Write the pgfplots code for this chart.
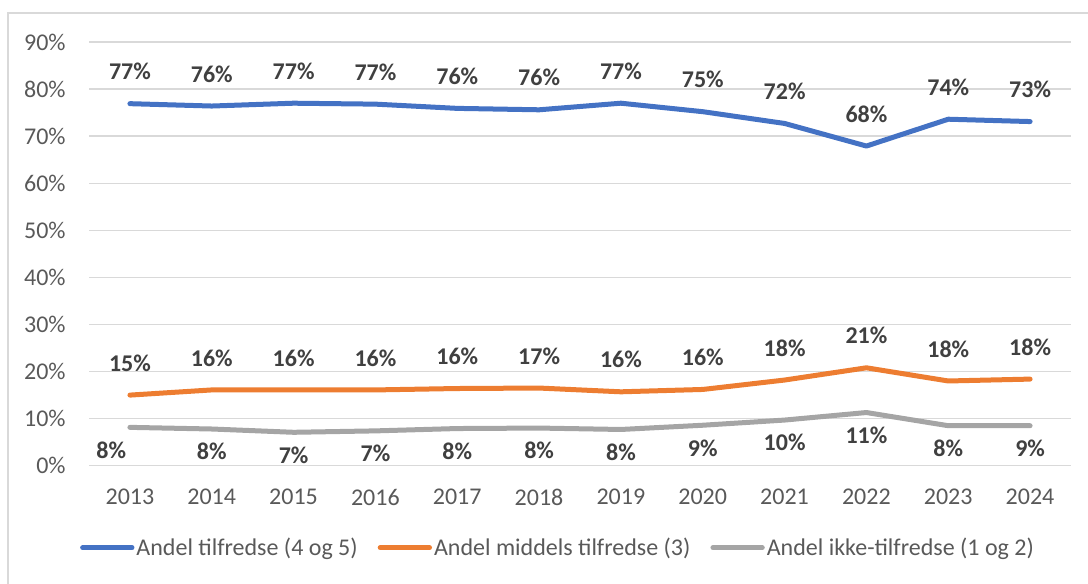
\documentclass[border=0pt]{standalone}
\usepackage{fontspec}
\setmainfont{Carlito}
\usepackage{pgfplots}
\pgfplotsset{compat=1.18}
\usepackage{pgfplotstable}

\definecolor{sblue}{HTML}{4472C4}
\definecolor{sorange}{HTML}{ED7D31}
\definecolor{sgray}{HTML}{A5A5A5}
\definecolor{gridc}{HTML}{D9D9D9}
\definecolor{tickc}{HTML}{595959}
\definecolor{labc}{HTML}{404040}

% andel fornøyde, prosent
\pgfplotstableread{
year val lab
2013 76.9 77\%
2014 76.4 76\%
2015 77.0 77\%
2016 76.8 77\%
2017 75.9 76\%
2018 75.6 76\%
2019 77.0 77\%
2020 75.2 75\%
2021 72.7 72\%
2022 67.9 68\%
2023 73.6 74\%
2024 73.1 73\%
}\tilfreds

\pgfplotstableread{
year val lab
2013 15.0 15\%
2014 16.1 16\%
2015 16.1 16\%
2016 16.1 16\%
2017 16.4 16\%
2018 16.5 17\%
2019 15.7 16\%
2020 16.2 16\%
2021 18.2 18\%
2022 20.8 21\%
2023 18.0 18\%
2024 18.4 18\%
}\middels

\pgfplotstableread{
year val lab
2013 8.15 {8\%\hspace*{28pt}}
2014 7.8 8\%
2015 7.1 7\%
2016 7.4 7\%
2017 7.9 8\%
2018 8.0 8\%
2019 7.7 8\%
2020 8.6 9\%
2021 9.7 10\%
2022 11.3 11\%
2023 8.5 8\%
2024 8.5 9\%
}\ikke

\begin{document}
\begin{tikzpicture}
\useasboundingbox (0pt,0pt) rectangle (816pt,438pt);
\draw[gridc, line width=1.1pt] (6pt,-10pt) -- (6pt,428.25pt) -- (830pt,428.25pt);
\begin{axis}[
  at={(66.75pt,88.7pt)}, anchor=south west,
  scale only axis,
  width=736.5pt, height=317.8pt,
  xmin=2012.5, xmax=2024.5,
  ymin=0, ymax=90,
  axis line style={draw=none},
  major tick length=0pt,
  ymajorgrids,
  major grid style={gridc, line width=1.1pt},
  xtick={2013,...,2024},
  xticklabels={2013,2014,2015,2016,2017,2018,2019,2020,2021,2022,2023,2024},
  ytick={0,10,...,90},
  yticklabels={0\%,10\%,20\%,30\%,40\%,50\%,60\%,70\%,80\%,90\%},
  ticklabel style={font=\fontsize{18}{20}\selectfont, text=tickc},
  xticklabel style={yshift=-14pt},
  yticklabel style={xshift=-14pt},
  clip=false,
  point meta=explicit symbolic,
  nodes near coords,
  every node near coord/.style={font=\fontsize{18}{20}\selectfont\bfseries, text=labc, anchor=center},
  legend style={at={(0.5,-0.1935)}, anchor=center, xshift=-16.5pt, draw=none, fill=none,
    font=\fontsize{18}{20}\selectfont, text=tickc,
    nodes={inner sep=1.5pt},
    /tikz/every even column/.append style={column sep=13.5pt}},
  legend columns=-1,
  legend image code/.code={\draw[#1, line width=3.75pt, line cap=round] (2pt,0pt) -- (39pt,0pt);},
]
\addplot[sblue, line width=3.75pt, line cap=round, line join=round,
  every node near coord/.append style={yshift=24pt}]
  table[x=year, y=val, meta=lab] {\tilfreds};
\addplot[sorange, line width=3.75pt, line cap=round, line join=round,
  every node near coord/.append style={yshift=24pt}]
  table[x=year, y=val, meta=lab] {\middels};
\addplot[sgray, line width=3.75pt, line cap=round, line join=round,
  every node near coord/.append style={yshift=-17pt}]
  table[x=year, y=val, meta=lab] {\ikke};
\legend{Andel tilfredse (4 og 5),Andel middels tilfredse (3),Andel ikke-tilfredse (1 og 2)}
\end{axis}
\end{tikzpicture}
\end{document}
